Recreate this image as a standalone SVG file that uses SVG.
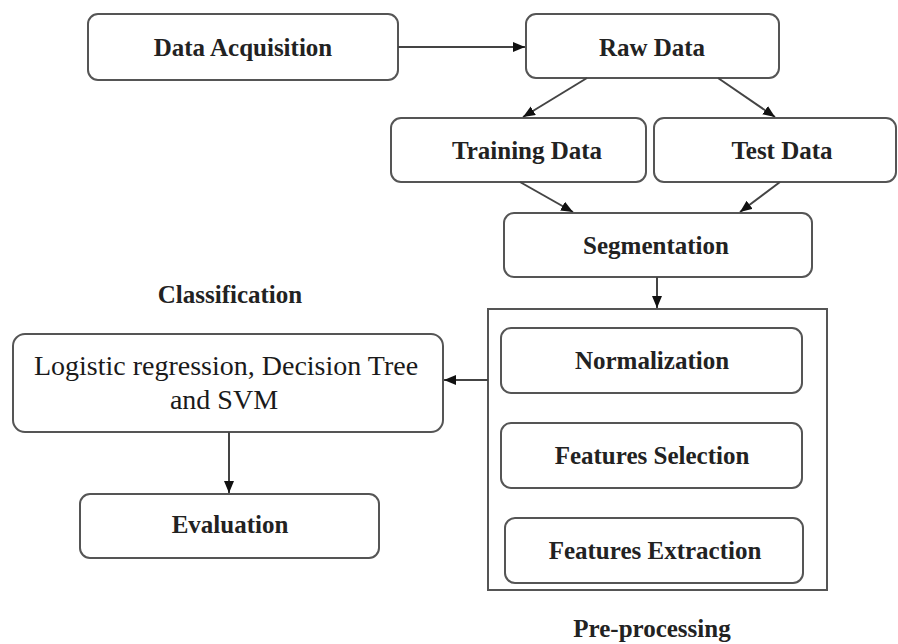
<svg xmlns="http://www.w3.org/2000/svg" width="898" height="644" viewBox="0 0 898 644">
<style>
.box{fill:#fff;stroke:#555;stroke-width:2}
.b{font-family:"Liberation Serif","Times New Roman",serif;font-weight:bold;font-size:25px;fill:#222;text-anchor:middle}
.r{font-family:"Liberation Serif","Times New Roman",serif;font-size:28px;fill:#1a1a1a;text-anchor:middle}
.c{stroke:#444;stroke-width:2;fill:none;marker-end:url(#ah)}
</style>
<defs>
<marker id="ah" markerUnits="userSpaceOnUse" markerWidth="14" markerHeight="12" refX="12" refY="5" orient="auto">
<path d="M0,0 L12,5 L0,10 Z" fill="#111"/>
</marker>
</defs>
<rect width="898" height="644" fill="#fff"/>
<g id="preprocessing">
<rect x="488" y="309" width="339" height="281" fill="#fff" stroke="#555" stroke-width="2"/>
<text class="b" x="652" y="637">Pre-processing</text>
</g>
<g id="data-acquisition">
<rect class="box" x="88" y="14" width="310" height="66" rx="10"/>
<text class="b" x="243" y="56">Data Acquisition</text>
</g>
<g id="raw-data">
<rect class="box" x="526" y="14" width="253" height="64" rx="10"/>
<text class="b" x="652" y="56">Raw Data</text>
</g>
<g id="training-data">
<rect class="box" x="391" y="118" width="255" height="64" rx="10"/>
<text class="b" x="527" y="159">Training Data</text>
</g>
<g id="test-data">
<rect class="box" x="654" y="118" width="242" height="64" rx="10"/>
<text class="b" x="782" y="159">Test Data</text>
</g>
<g id="segmentation">
<rect class="box" x="504" y="213" width="308" height="64" rx="10"/>
<text class="b" x="656" y="254">Segmentation</text>
</g>
<g id="normalization">
<rect class="box" x="501" y="328" width="301" height="65" rx="10"/>
<text class="b" x="652" y="369">Normalization</text>
</g>
<g id="features-selection">
<rect class="box" x="501" y="423" width="301" height="65" rx="10"/>
<text class="b" x="652" y="464">Features Selection</text>
</g>
<g id="features-extraction">
<rect class="box" x="505" y="518" width="298" height="65" rx="10"/>
<text class="b" x="655" y="559">Features Extraction</text>
</g>
<g id="classification">
<text class="b" x="230" y="303">Classification</text>
<rect class="box" x="13" y="334" width="430" height="98" rx="12"/>
<text class="r" x="226" y="375">Logistic regression, Decision Tree</text>
<text class="r" x="224" y="409">and SVM</text>
</g>
<g id="evaluation">
<rect class="box" x="80" y="494" width="299" height="64" rx="10"/>
<text class="b" x="230" y="533">Evaluation</text>
</g>
<g id="connectors">
<line class="c" x1="398" y1="47" x2="525" y2="47"/>
<line class="c" x1="587" y1="78" x2="523" y2="117"/>
<line class="c" x1="718" y1="78" x2="775" y2="117"/>
<line class="c" x1="520" y1="182" x2="573" y2="212"/>
<line class="c" x1="780" y1="182" x2="740" y2="212"/>
<line class="c" x1="657" y1="277" x2="657" y2="308"/>
<line class="c" x1="488" y1="380" x2="444" y2="380"/>
<line class="c" x1="229" y1="432" x2="229" y2="493"/>
</g>
</svg>
